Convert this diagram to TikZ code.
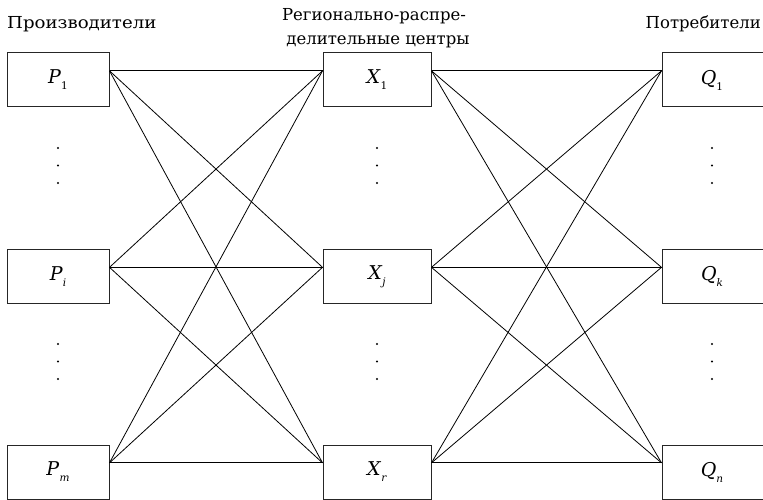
\documentclass[tikz,border=0pt]{standalone}
\usepackage{fontspec}
\setmainfont{DejaVu Serif}
\usetikzlibrary{calc}
\newcommand\idx[2]{\textit{#1}\raisebox{-0.6ex}{\fontsize{10.5}{10.5}\selectfont #2}}
\begin{document}
\begin{tikzpicture}[x=1pt,y=-1pt,
  unit/.style={draw=black!85, line width=1pt, minimum width=102pt, minimum height=54pt,
    inner sep=0pt, font=\fontsize{19}{19}\selectfont},
  hub/.style={unit, minimum width=108pt},
  link/.style={line width=0.8pt},
  dotmark/.style={circle, fill=black, inner sep=0pt, minimum size=2.4pt},
  head/.style={font=\fontsize{16.5}{20}\selectfont, inner sep=0pt}
]
\useasboundingbox (0,0) rectangle (763,500);
\clip (0,0) rectangle (763,500);

% column headings
\node[head, anchor=base west] (hP) at (7,29) {\scalebox{1.1}[1]{Производители}};
\node[head, anchor=base] (hX1) at (374,21) {Регионально-распре-};
\node[head, anchor=base] (hX2) at (378,45) {делительные центры};
\node[head, anchor=base east] (hQ) at (761,29) {Потребители};

% producers
\node[unit] (P1) at (58,80) {\idx{P}{1}};
\node[unit] (Pi) at (58,276.5) {\idx{P}{\textit{i}}};
\node[unit] (Pm) at (58,472) {\idx{P}{\textit{m}}};
% distribution centres
\node[hub] (X1) at (377,80) {\idx{X}{1}};
\node[hub] (Xj) at (377,276.5) {\idx{X}{\textit{j}}};
\node[hub] (Xr) at (377,472) {\idx{X}{\textit{r}}};
% consumers
\node[unit, minimum width=106pt] (Q1) at (715,80) {\hspace*{-6pt}\idx{Q}{1}};
\node[unit, minimum width=106pt] (Qk) at (715,276.5) {\hspace*{-6pt}\idx{Q}{\textit{k}}};
\node[unit, minimum width=106pt] (Qn) at (715,472) {\hspace*{-6pt}\idx{Q}{\textit{n}}};

% attachment points, one third down the box sides
\foreach \n in {P1,Pi,Pm,X1,Xj,Xr}
  \coordinate (\n o) at ($(\n.north east)!1/3!(\n.south east)$);
\foreach \n in {X1,Xj,Xr,Q1,Qk,Qn}
  \coordinate (\n i) at ($(\n.north west)!1/3!(\n.south west)$);

% links
\foreach \a in {P1,Pi,Pm}
  \foreach \b in {X1,Xj,Xr}
    \draw[link] (\a o) -- (\b i);
\foreach \a in {X1,Xj,Xr}
  \foreach \b in {Q1,Qk,Qn}
    \draw[link] (\a o) -- (\b i);

% ellipsis dots
\foreach \x/\c in {58/P,377/X,712/Q}
  \foreach \y/\g in {0/a,196/b}
    \foreach \d/\k in {148/1,165.5/2,183/3}
      \node[dotmark] (d\c\g\k) at (\x,\d+\y) {};
\end{tikzpicture}
\end{document}
